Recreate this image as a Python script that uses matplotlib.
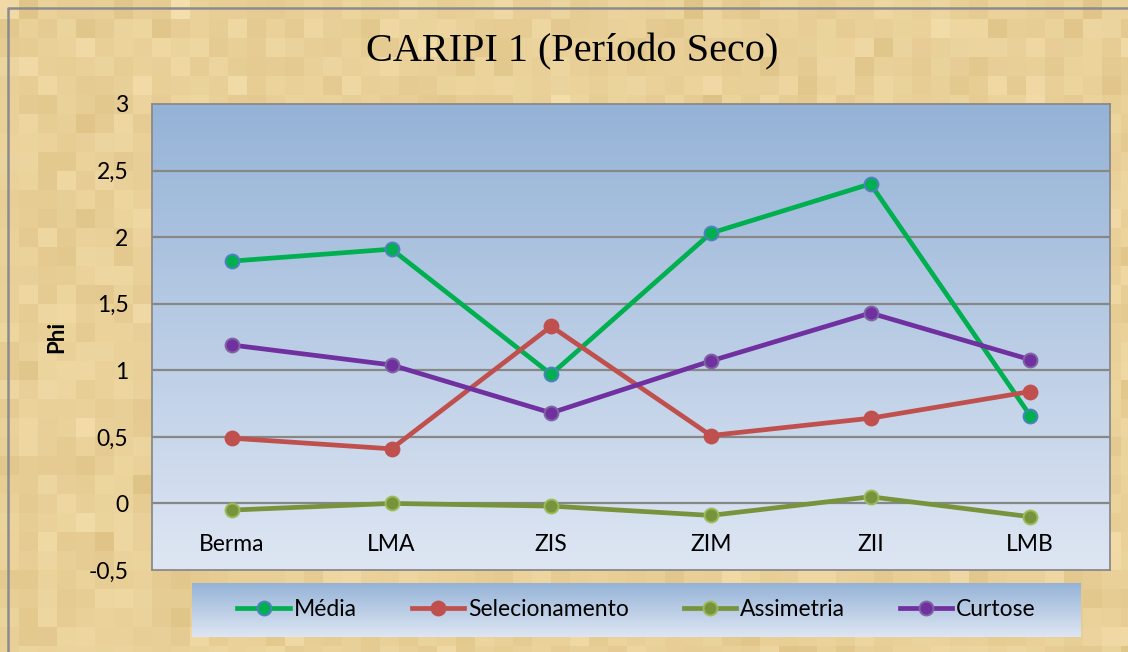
import numpy as np
import matplotlib
matplotlib.use("Agg")
import matplotlib.pyplot as plt
from matplotlib.lines import Line2D

categories = ["Berma", "LMA", "ZIS", "ZIM", "ZII", "LMB"]
media = [1.82, 1.91, 0.97, 2.03, 2.40, 0.66]
selecionamento = [0.49, 0.41, 1.33, 0.51, 0.64, 0.84]
assimetria = [-0.05, 0.00, -0.02, -0.09, 0.05, -0.10]
curtose = [1.19, 1.04, 0.68, 1.07, 1.43, 1.08]
series_names = ["Média", "Selecionamento", "Assimetria", "Curtose"]
yticks = [-0.5, 0, 0.5, 1, 1.5, 2, 2.5, 3]
ytick_labels = ["-0,5", "0", "0,5", "1", "1,5", "2", "2,5", "3"]
title = "CARIPI 1 (Período Seco)"
ylabel = "Phi"

W, H = 1128, 652
fig = plt.figure(figsize=(W / 100, H / 100), dpi=100)

# parchment mosaic background (decorative)
bg = fig.add_axes([0, 0, 1, 1], zorder=-10)
rng = np.random.default_rng(3)
nx, ny = W // 19 + 1, H // 19 + 1
base = np.array([233, 208, 152]) / 255.0
noise = rng.normal(0, 1, (ny, nx, 1)) * np.array([3.5, 4.5, 6]) / 255.0
tile = np.clip(base + noise, 0, 1)
bg.imshow(tile, extent=[0, nx * 19, ny * 19, 0], interpolation="nearest", aspect="auto")
bg.set_xlim(0, W)
bg.set_ylim(H, 0)
bg.axis("off")
bg.add_line(Line2D([8, 8, W + 5], [H + 5, 8, 8], color="#8c8c8c", lw=1.8))

# plot area
L, R, T, B = 152, 1110, 104, 570
ax = fig.add_axes([L / W, 1 - B / H, (R - L) / W, (B - T) / H])
grad = np.linspace(0, 1, 256).reshape(-1, 1)
top_c = np.array([149, 179, 215]) / 255.0
bot_c = np.array([222, 230, 243]) / 255.0
img = top_c * (1 - grad[..., None]) + bot_c * grad[..., None]
img = np.repeat(img, 2, axis=1)
ax.imshow(img, extent=[-0.5, 5.5, -0.5, 3], aspect="auto", zorder=0, interpolation="bilinear")
ax.set_xlim(-0.5, len(categories) - 0.5)
ax.set_ylim(-0.5, 3)
for yv in yticks[1:-1]:
    ax.axhline(yv, color="#878787", lw=1.6, zorder=1)
for s in ax.spines.values():
    s.set_color("#8a8a8a")
    s.set_linewidth(1.3)
ax.set_xticks([])
ax.set_yticks(yticks)
ax.set_yticklabels(ytick_labels, fontfamily="Lato", fontsize=16.5)
ax.tick_params(axis="y", length=0, pad=17)

x = np.arange(len(categories))
styles = [
    (media, "#00B050", "#00B050", "#4F81BD"),
    (selecionamento, "#C0504D", "#C0504D", "#C0504D"),
    (assimetria, "#77933C", "#77933C", "#9BBB59"),
    (curtose, "#7030A0", "#7030A0", "#8064A2"),
]
handles = []
for (vals, lc, fc, ec), name in zip(styles, series_names):
    ln, = ax.plot(x, vals, color=lc, lw=3.4, marker="o", markersize=10,
                  markerfacecolor=fc, markeredgecolor=ec, markeredgewidth=1.4,
                  zorder=3, label=name)
    handles.append(ln)

for xi, c in zip(x, categories):
    ax.text(xi, -0.31, c, ha="center", va="center", fontfamily="Lato", fontsize=16.5, zorder=2)

fig.text(57 / W, 1 - 337 / H, ylabel, rotation=90, ha="center", va="center",
         fontfamily="Lato", fontweight="bold", fontsize=16)
fig.text(572 / W, 1 - 52 / H, title, ha="center", va="center",
         fontfamily="Liberation Serif", fontsize=29)

# legend box with gradient
LL, LR, LT, LB = 192, 1081, 583, 637
lax = fig.add_axes([LL / W, 1 - LB / H, (LR - LL) / W, (LB - LT) / H])
lax.imshow(img, extent=[0, 1, 0, 1], aspect="auto", interpolation="bilinear")
lax.set_xlim(0, 1)
lax.set_ylim(0, 1)
lax.axis("off")
leg = lax.legend(handles=handles, loc="center", ncol=4, frameon=False,
                 prop={"family": "Lato", "size": 16.5}, handlelength=2.3,
                 handletextpad=0.15, columnspacing=2.4, borderaxespad=0)

fig.savefig("out.png", dpi=100)
